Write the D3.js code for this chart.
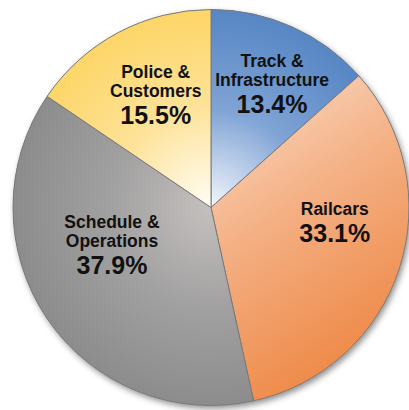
<!DOCTYPE html>
<html lang="en">

<head>
  <title></title>
  <meta charset="UTF-8">
  <style>
    body {
      margin: 0;
      background: #fff;
    }
  </style>
</head>

<body>
  <div id="container"></div>
  <script src="https://cdn.jsdelivr.net/npm/d3@7"></script>
  <script>
    const categories = ['Track & Infrastructure', 'Railcars', 'Schedule & Operations', 'Police & Customers'];
    const values = [13.4, 33.1, 37.9, 15.5];
    const labelLines = [['Track &', 'Infrastructure'], ['Railcars'], ['Schedule &', 'Operations'], ['Police &', 'Customers']];
    const innerColors = ['#f4f7fc', '#fadcc8', '#c4c0be', '#fffdf6'];
    const midColors = ['#7fa3d4', '#f4b084', '#a2a1a1', '#fde39a'];
    const outerColors = ['#5686c4', '#ee8744', '#8c8c8c', '#fdd668'];

    const width = 409;
    const height = 410;
    const cx = 211;
    const cy = 207.5;
    const radius = 198;

    const svg = d3.select('#container')
      .append('svg')
      .attr('width', width)
      .attr('height', height);

    const defs = svg.append('defs');

    const shadow = defs.append('filter')
      .attr('id', 'shadow')
      .attr('x', '-10%').attr('y', '-10%')
      .attr('width', '120%').attr('height', '120%');
    shadow.append('feDropShadow')
      .attr('dx', 2).attr('dy', 3)
      .attr('stdDeviation', 3)
      .attr('flood-color', '#000')
      .attr('flood-opacity', 0.45);

    // radial gradients centred on the pie; railcars gets a top-to-bottom one
    categories.forEach((c, i) => {
      let g;
      if (i === 1) {
        g = defs.append('linearGradient')
          .attr('id', 'grad' + i)
          .attr('x1', 0.1).attr('y1', 0)
          .attr('x2', 0.5).attr('y2', 1);
      } else {
        g = defs.append('radialGradient')
          .attr('id', 'grad' + i)
          .attr('gradientUnits', 'userSpaceOnUse')
          .attr('cx', 0).attr('cy', 0).attr('r', radius);
      }
      g.append('stop').attr('offset', '0%').attr('stop-color', innerColors[i]);
      g.append('stop').attr('offset', i === 1 ? '45%' : '50%').attr('stop-color', midColors[i]);
      g.append('stop').attr('offset', '100%').attr('stop-color', outerColors[i]);
    });

    const pie = d3.pie().sort(null).value(d => d);
    const arcs = pie(values);
    const arc = d3.arc().innerRadius(0).outerRadius(radius);

    const g = svg.append('g')
      .attr('transform', `translate(${cx},${cy})`);

    g.append('circle')
      .attr('r', radius)
      .attr('fill', '#999')
      .attr('filter', 'url(#shadow)');

    g.selectAll('path.slice')
      .data(arcs)
      .join('path')
      .attr('class', 'slice')
      .attr('d', arc)
      .attr('fill', (d, i) => 'url(#grad' + i + ')')
      .attr('stroke', '#7a7a7a')
      .attr('stroke-width', 1);

    // label placement along each slice's bisector, then nudged
    const labelRadius = [137, 128, 110, 130];
    const nudge = [[5, 1.5], [2, -24], [-8, -24], [5.6, 2]];
    const label = g.selectAll('g.label')
      .data(arcs)
      .join('g')
      .attr('class', 'label')
      .attr('transform', (d, i) => {
        const a = (d.startAngle + d.endAngle) / 2;
        const x = Math.sin(a) * labelRadius[i] + nudge[i][0];
        const y = -Math.cos(a) * labelRadius[i] + nudge[i][1];
        return `translate(${x},${y})`;
      })
      .style('font-family', '"Liberation Sans", Arial, sans-serif')
      .style('font-weight', 'bold')
      .attr('text-anchor', 'middle')
      .attr('fill', '#111');

    label.each(function (d, i) {
      const sel = d3.select(this);
      const lines = labelLines[i];
      const n = lines.length;
      const total = (n - 1) * 19 + 27;
      let y = -total / 2 + 6;
      lines.forEach(t => {
        sel.append('text').attr('y', y).style('font-size', '17.5px').text(t);
        y += 19;
      });
      sel.append('text').attr('y', y + 8).style('font-size', '25px').text(d.data.toFixed(1) + '%');
    });
  </script>
</body>

</html>
